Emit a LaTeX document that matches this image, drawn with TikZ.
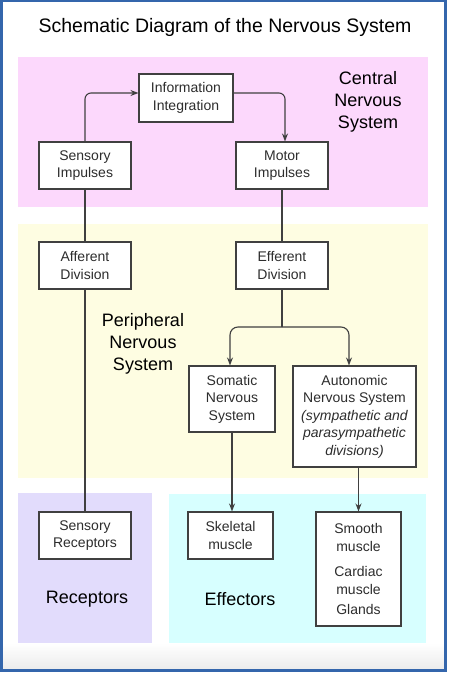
\documentclass[tikz,border=0pt]{standalone}
\usepackage{fontspec}
\setmainfont{Liberation Sans}
\usetikzlibrary{arrows.meta}
\definecolor{cnspink}{RGB}{252,216,252}
\definecolor{pnsyellow}{RGB}{254,253,226}
\definecolor{reclav}{RGB}{226,220,252}
\definecolor{effcyan}{RGB}{215,255,255}
\definecolor{boxline}{RGB}{64,64,64}
\definecolor{boxtext}{RGB}{45,45,45}
\definecolor{frameblue}{RGB}{52,102,172}
\definecolor{bottomgray}{RGB}{236,236,236}
\tikzset{
  box/.style={draw=boxline, line width=1.1pt, fill=white, text=boxtext,
    font=\fontsize{14}{17.5}\selectfont, align=center, inner sep=0pt},
  region/.style={draw=none},
  biglabel/.style={font=\fontsize{18}{22}\selectfont, align=center, text=black},
  conn/.style={draw=boxline, line width=1.1pt},
  arr/.style={conn, -{Stealth[length=8pt,width=6pt]}},
}
\begin{document}
\begin{tikzpicture}[x=1pt,y=-1pt]
\useasboundingbox (0,0) rectangle (450,675);
% background and frame
\fill[white] (0,0) rectangle (450,675);
\shade[top color=white, bottom color=bottomgray] (3,643) rectangle (444,669);
\draw[frameblue, line width=3pt] (1.5,0) rectangle (445.5,670.5);
% regions
\fill[cnspink] (18,57) rectangle (428,207);
\fill[pnsyellow] (18,224) rectangle (428,478);
\fill[reclav] (18,493) rectangle (152,643);
\fill[effcyan] (169,494) rectangle (426,643);
% title
\node (title) at (225,27) {\fontsize{19.5}{23}\selectfont Schematic Diagram of the Nervous System};
% region labels
\node[biglabel] (cnslab) at (368,102) {Central\\Nervous\\System};
\node[biglabel] (pnslab) at (143,344) {Peripheral\\Nervous\\System};
\node[biglabel] (reclab) at (87,599) {Receptors};
\node[biglabel] (efflab) at (240,599) {Effectors};
% boxes
\node[box, minimum width=94pt, minimum height=48pt] (info) at (186,98) {Information\\Integration};
\node[box, minimum width=92pt, minimum height=47pt] (sensimp) at (85,165.5) {Sensory\\Impulses};
\node[box, minimum width=92pt, minimum height=47pt] (motor) at (282,165.5) {Motor\\Impulses};
\node[box, minimum width=92pt, minimum height=47pt] (aff) at (85,265.5) {Afferent\\Division};
\node[box, minimum width=92pt, minimum height=47pt] (eff) at (282,265.5) {Efferent\\Division};
\node[box, minimum width=86pt, minimum height=66pt] (som) at (232,399) {Somatic\\Nervous\\System};
\node[box, minimum width=123pt, minimum height=101pt] (auto) at (354.5,416.5) {Autonomic\\Nervous System\\\itshape (sympathetic and\\\itshape parasympathetic\\\itshape divisions)};
\node[box, minimum width=92pt, minimum height=47pt] (sensrec) at (85,535.5) {Sensory\\Receptors};
\node[box, minimum width=85pt, minimum height=47pt] (skel) at (230.5,535.5) {Skeletal\\muscle};
\node[box, minimum width=85pt, minimum height=114pt] (smooth) at (358.5,569) {Smooth\\muscle\\[8pt]Cardiac\\muscle\\[3pt]Glands};
% connectors
\coordinate (br) at (282,327);
\draw[conn] (sensrec.north) -- (aff.south);
\draw[conn] (aff.north) -- (sensimp.south);
\draw[arr, rounded corners=6pt] (sensimp.north) |- ([yshift=5pt]info.west);
\draw[arr, rounded corners=6pt] ([yshift=5pt]info.east) -| ([xshift=3pt]motor.north);
\draw[conn] (motor.south) -- (eff.north);
\draw[conn] (eff.south) -- (br);
\draw[arr, rounded corners=8pt] (br) -| ([xshift=-2pt]som.north);
\draw[arr, rounded corners=8pt] (br) -| ([xshift=-5.5pt]auto.north);
\draw[arr] (som.south) -- (som.south |- skel.north);
\draw[arr] (smooth.north |- auto.south) -- (smooth.north);
\end{tikzpicture}
\end{document}
